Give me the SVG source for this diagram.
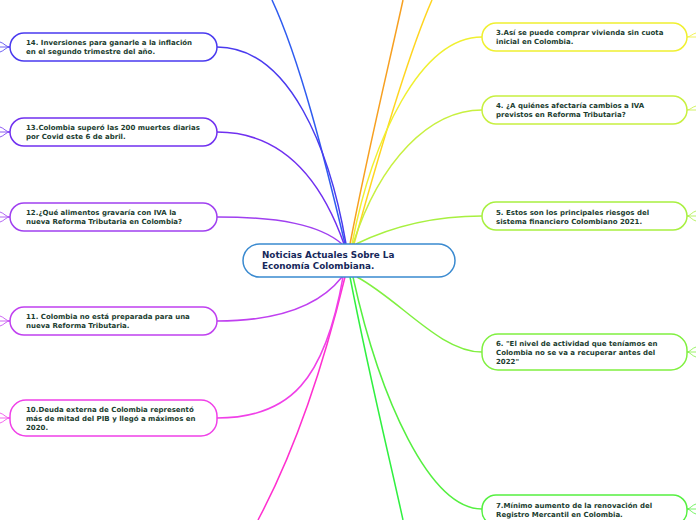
<svg xmlns="http://www.w3.org/2000/svg" width="696" height="520" viewBox="0 0 696 520">
<style>
.n{fill:#fff;stroke-width:1.5}
.t{font-family:"DejaVu Sans",Verdana,sans-serif;font-weight:bold;font-size:7px;fill:#1b3d30}
.c{font-family:"DejaVu Sans",Verdana,sans-serif;font-weight:bold;font-size:8.8px;fill:#16285a}
.e{fill:none;stroke-width:1.5}
.s{fill:none;stroke-width:0.8}
</style>
<rect width="696" height="520" fill="#fff"/>
<g id="connectors">
<path class="e" stroke="#2f5cf0" d="M345,244 C325,160 300,60 272,0"/>
<path class="e" stroke="#f7a020" d="M350,244 C368,150 390,60 403,0"/>
<path class="e" stroke="#ffd520" d="M354,244 C380,150 410,50 432,0"/>
<path class="e" stroke="#f0f030" d="M352,244 C372,140 420,37 482,37"/>
<path class="e" stroke="#c8f040" d="M353,244 C380,160 430,110 482,110"/>
<path class="e" stroke="#a8f040" d="M356,244 C395,225 440,216 482,216"/>
<path class="e" stroke="#80f040" d="M357,277 C400,300 440,352 482,352"/>
<path class="e" stroke="#55f040" d="M353,277 C380,400 430,509 482,509"/>
<path class="e" stroke="#30f040" d="M350,277 C370,380 390,460 403,520"/>
<path class="e" stroke="#ff30d0" d="M345,277 C320,380 290,460 258,520"/>
<path class="e" stroke="#f040e8" d="M343,277 C325,380 290,418 217,418"/>
<path class="e" stroke="#c040f0" d="M342,277 C320,305 280,321 217,321"/>
<path class="e" stroke="#a040f0" d="M342,244 C320,225 280,217 217,217"/>
<path class="e" stroke="#7030f0" d="M344,244 C325,190 290,132 217,132"/>
<path class="e" stroke="#4a3aef" d="M346,244 C330,150 290,47 217,47"/>
<path class="s" stroke="#4a3aef" d="M10,47 C6,47 4,43 0,42 M10,47 L0,47 M10,47 C6,47 4,51 0,52"/>
<path class="s" stroke="#7030f0" d="M10,132 C6,132 4,128 0,127 M10,132 L0,132 M10,132 C6,132 4,136 0,137"/>
<path class="s" stroke="#a040f0" d="M10,217 C6,217 4,213 0,212 M10,217 L0,217 M10,217 C6,217 4,221 0,222"/>
<path class="s" stroke="#c040f0" d="M10,321 C6,321 4,317 0,316 M10,321 L0,321 M10,321 C6,321 4,325 0,326"/>
<path class="s" stroke="#f040e8" d="M10,418 C6,418 4,414 0,413 M10,418 L0,418 M10,418 C6,418 4,422 0,423"/>
<path class="s" stroke="#f0f030" d="M687,37 C690,37 692,34 696,33 M687,37 L696,37"/>
<path class="s" stroke="#c8f040" d="M687,110 C690,110 692,107 696,106 M687,110 L696,110"/>
<path class="s" stroke="#a8f040" d="M687,216 C690,216 692,212 696,211 M687,216 L696,216 M687,216 C690,216 692,220 696,221"/>
<path class="s" stroke="#80f040" d="M687,352 C690,352 692,348 696,347 M687,352 L696,352 M687,352 C690,352 692,356 696,357"/>
<path class="s" stroke="#55f040" d="M687,509 C690,509 692,505 696,504 M687,509 L696,509 M687,509 C690,509 692,513 696,514"/>
</g>
<g id="center">
<rect class="n" x="243" y="244" width="212" height="33" rx="16.5" stroke="#3a8ad0"/>
<text class="c" x="262" y="258">Noticias Actuales Sobre La</text>
<text class="c" x="262" y="269">Economía Colombiana.</text>
</g>
<g id="n14">
<rect class="n" x="10" y="33" width="207" height="28" rx="14" stroke="#4a3aef"/>
<text class="t" x="26" y="45">14. Inversiones para ganarle a la inflación</text>
<text class="t" x="26" y="54">en el segundo trimestre del año.</text>
</g>
<g id="n13">
<rect class="n" x="10" y="118" width="207" height="28" rx="14" stroke="#7030f0"/>
<text class="t" x="26" y="130">13.Colombia superó las 200 muertes diarias</text>
<text class="t" x="26" y="139">por Covid este 6 de abril.</text>
</g>
<g id="n12">
<rect class="n" x="10" y="203" width="207" height="28" rx="14" stroke="#a040f0"/>
<text class="t" x="26" y="215">12.¿Qué alimentos gravaría con IVA la</text>
<text class="t" x="26" y="224">nueva Reforma Tributaria en Colombia?</text>
</g>
<g id="n11">
<rect class="n" x="10" y="307" width="207" height="28" rx="14" stroke="#c040f0"/>
<text class="t" x="26" y="319">11. Colombia no está preparada para una</text>
<text class="t" x="26" y="328">nueva Reforma Tributaria.</text>
</g>
<g id="n10">
<rect class="n" x="10" y="400" width="207" height="36" rx="16" stroke="#f040e8"/>
<text class="t" x="26" y="412">10.Deuda externa de Colombia representó</text>
<text class="t" x="26" y="421">más de mitad del PIB y llegó a máximos en</text>
<text class="t" x="26" y="430">2020.</text>
</g>
<g id="n3">
<rect class="n" x="482" y="23" width="205" height="28" rx="14" stroke="#f0f030"/>
<text class="t" x="496" y="35">3.Así se puede comprar vivienda sin cuota</text>
<text class="t" x="496" y="44">inicial en Colombia.</text>
</g>
<g id="n4">
<rect class="n" x="482" y="96" width="205" height="28" rx="14" stroke="#c8f040"/>
<text class="t" x="496" y="108">4. ¿A quiénes afectaría cambios a IVA</text>
<text class="t" x="496" y="117">previstos en Reforma Tributaria?</text>
</g>
<g id="n5">
<rect class="n" x="482" y="202" width="205" height="28" rx="14" stroke="#a8f040"/>
<text class="t" x="496" y="215">5. Estos son los principales riesgos del</text>
<text class="t" x="496" y="224">sistema financiero Colombiano 2021.</text>
</g>
<g id="n6">
<rect class="n" x="482" y="334" width="205" height="36" rx="16" stroke="#80f040"/>
<text class="t" x="496" y="346">6. "El nivel de actividad que teníamos en</text>
<text class="t" x="496" y="355">Colombia no se va a recuperar antes del</text>
<text class="t" x="496" y="364">2022"</text>
</g>
<g id="n7">
<rect class="n" x="482" y="495" width="205" height="30" rx="14" stroke="#55f040"/>
<text class="t" x="496" y="508">7.Mínimo aumento de la renovación del</text>
<text class="t" x="496" y="517">Registro Mercantil en Colombia.</text>
</g>
</svg>
